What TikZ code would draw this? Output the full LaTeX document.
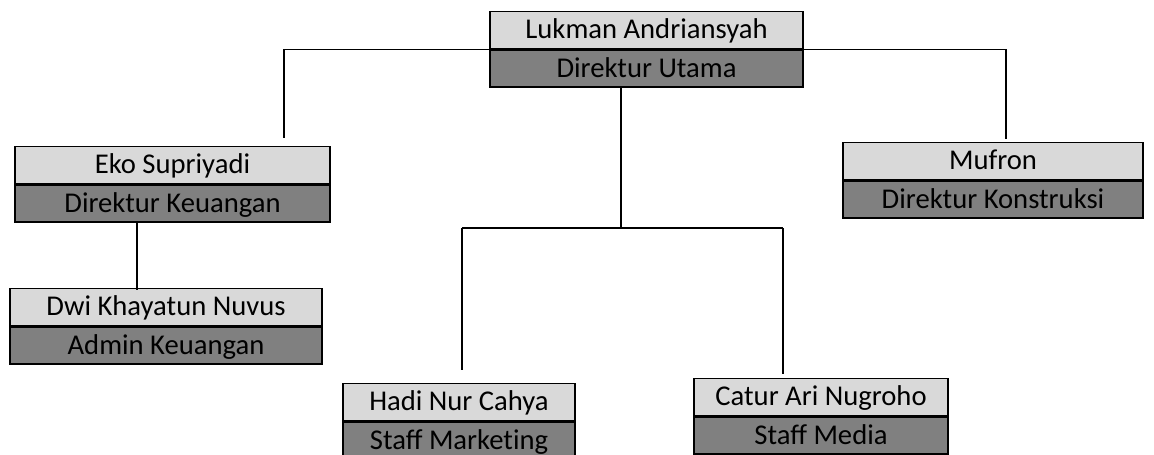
\documentclass[tikz,border=0pt]{standalone}
\usepackage{fontspec}
\setmainfont{Carlito}
\usepackage{tikz}
\usetikzlibrary{positioning}
\definecolor{namegray}{HTML}{D9D9D9}
\definecolor{jobgray}{HTML}{808080}

\begin{document}
\begin{tikzpicture}[x=0.02cm,y=-0.02cm,
  namebox/.style={draw,line width=1.1pt,fill=namegray,inner sep=0pt,minimum height=0.74cm,
    text height=1.0em,text depth=0.06em,font=\fontsize{16.3}{18}\selectfont},
  jobbox/.style={namebox,fill=jobgray},
  link/.style={line width=1pt}]
\useasboundingbox (0,0) rectangle (1154,454);
\node[namebox,minimum width=6.26cm] (LUKMAN) at (646.5,30) {Lukman Andriansyah};
\node[jobbox,minimum width=6.26cm,below=0pt of LUKMAN] (LUKMANJOB) {Direktur Utama};
\node[namebox,minimum width=6.30cm] (EKO) at (172.5,165) {Eko Supriyadi};
\node[jobbox,minimum width=6.30cm,below=0pt of EKO] (EKOJOB) {Direktur Keuangan};
\node[namebox,minimum width=6.0cm] (MUFRON) at (993,161) {Mufron};
\node[jobbox,minimum width=6.0cm,below=0pt of MUFRON] (MUFRONJOB) {Direktur Konstruksi};
\node[namebox,minimum width=6.24cm] (DWI) at (166,307) {Dwi Khayatun Nuvus};
\node[jobbox,minimum width=6.24cm,below=0pt of DWI] (DWIJOB) {Admin Keuangan};
\node[namebox,minimum width=4.64cm] (HADI) at (459,402) {Hadi Nur Cahya};
\node[jobbox,minimum width=4.64cm,below=0pt of HADI] (HADIJOB) {Staff Market\kern0pt ing};
\node[namebox,minimum width=5.08cm] (CATUR) at (821,397) {Catur Ari Nugroho};
\node[jobbox,minimum width=5.08cm,below=0pt of CATUR] (CATURJOB) {Staff Media};
% loose ends of the lines
\coordinate (EKOIN) at (284,138);
\coordinate (MUFRONIN) at (1006,139);
\coordinate (SPLIT) at (621,228);
\coordinate (HADIIN) at (462,370);
\coordinate (CATURIN) at (783,374);
\coordinate (DWIIN) at (137,290);
\draw [link] (LUKMAN.south west) -| (EKOIN);
\draw [link] (LUKMAN.south east) -| (MUFRONIN);
\draw [link] (LUKMANJOB.south -| SPLIT) -- (SPLIT);
\draw [link] (HADIIN |- SPLIT) -- (CATURIN |- SPLIT);
\draw [link] (HADIIN |- SPLIT) -- (HADIIN);
\draw [link] (CATURIN |- SPLIT) -- (CATURIN);
\draw [link] (EKOJOB.south -| DWIIN) -- (DWIIN);
\end{tikzpicture}
\end{document}
